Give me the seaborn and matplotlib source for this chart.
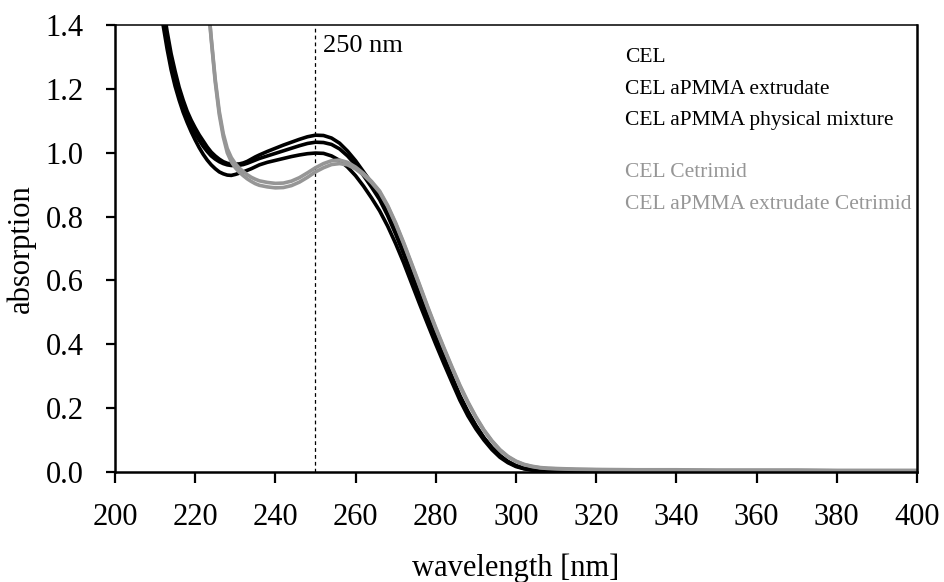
import pandas as pd
import numpy as np
import matplotlib.pyplot as plt
import seaborn as sns

# wavelength grid [nm]: 1 nm steps on the steep start, then 2 nm, then coarse tail
wavelength = (list(range(208, 237)) + list(range(238, 311, 2))
              + [315, 320, 330, 340, 350, 360, 370, 380, 390, 400])

# absorption
cel = [1.90, 1.77, 1.65, 1.55, 1.46, 1.38, 1.31, 1.255, 1.205, 1.165, 1.13, 1.102, 1.078, 1.056, 1.037,
       1.018, 1.002, 0.990, 0.980, 0.972, 0.967, 0.964, 0.964, 0.965, 0.968, 0.973, 0.980, 0.987, 0.993,
       1.004, 1.014, 1.024, 1.033, 1.042, 1.050, 1.055, 1.054, 1.046, 1.030, 1.005, 0.975, 0.940, 0.905,
       0.866, 0.815, 0.757, 0.692, 0.624, 0.556, 0.490, 0.425, 0.362, 0.300, 0.240, 0.190, 0.146, 0.108,
       0.077, 0.052, 0.033, 0.020, 0.012, 0.008, 0.006, 0.005, 0.004,
       0.003, 0.003, 0.003, 0.002, 0.002, 0.002, 0.002, 0.002, 0.002, 0.002]
cel_extr = [1.85, 1.73, 1.62, 1.52, 1.43, 1.35, 1.285, 1.232, 1.185, 1.145, 1.112, 1.084, 1.060, 1.039, 1.020,
            1.004, 0.990, 0.980, 0.972, 0.966, 0.962, 0.960, 0.960, 0.961, 0.963, 0.967, 0.972, 0.977, 0.982,
            0.990, 0.998, 1.006, 1.014, 1.022, 1.029, 1.033, 1.032, 1.026, 1.012, 0.990, 0.962, 0.928, 0.892,
            0.853, 0.803, 0.745, 0.682, 0.615, 0.548, 0.482, 0.418, 0.356, 0.295, 0.236, 0.186, 0.143, 0.106,
            0.075, 0.050, 0.032, 0.019, 0.011, 0.007, 0.005, 0.004, 0.004,
            0.003, 0.003, 0.003, 0.002, 0.002, 0.002, 0.002, 0.002, 0.002, 0.002]
cel_phys = [1.80, 1.68, 1.58, 1.48, 1.40, 1.325, 1.26, 1.208, 1.165, 1.127, 1.095, 1.066, 1.040, 1.016, 0.995,
            0.977, 0.962, 0.950, 0.940, 0.934, 0.930, 0.929, 0.932, 0.936, 0.940, 0.945, 0.950, 0.956, 0.962,
            0.970, 0.976, 0.982, 0.988, 0.993, 0.997, 0.999, 0.998, 0.990, 0.976, 0.955, 0.928, 0.895, 0.858,
            0.818, 0.770, 0.715, 0.655, 0.590, 0.525, 0.462, 0.400, 0.340, 0.282, 0.225, 0.176, 0.135, 0.100,
            0.070, 0.046, 0.029, 0.017, 0.010, 0.006, 0.005, 0.004, 0.003,
            0.003, 0.002, 0.002, 0.002, 0.002, 0.002, 0.002, 0.002, 0.002, 0.002]
cel_cet = [4.0, 3.8, 3.6, 3.4, 3.2, 3.0, 2.8, 2.6, 2.45, 2.3, 2.15, 2.0, 1.88, 1.76, 1.64,
           1.50, 1.36, 1.23, 1.13, 1.06, 1.013, 0.985, 0.966, 0.952, 0.941, 0.931, 0.923, 0.917, 0.912,
           0.907, 0.904, 0.905, 0.911, 0.922, 0.937, 0.953, 0.966, 0.975, 0.977, 0.970, 0.955, 0.935, 0.910,
           0.880, 0.835, 0.780, 0.718, 0.652, 0.585, 0.517, 0.452, 0.390, 0.330, 0.272, 0.220, 0.173, 0.132,
           0.098, 0.070, 0.049, 0.034, 0.024, 0.018, 0.014, 0.012, 0.011,
           0.009, 0.008, 0.007, 0.007, 0.006, 0.006, 0.006, 0.005, 0.005, 0.005]
cel_extr_cet = [4.0, 3.8, 3.6, 3.4, 3.2, 3.0, 2.8, 2.6, 2.45, 2.3, 2.15, 2.0, 1.88, 1.76, 1.64,
                1.50, 1.355, 1.222, 1.12, 1.05, 1.000, 0.972, 0.953, 0.939, 0.928, 0.918, 0.910, 0.903, 0.898,
                0.893, 0.890, 0.891, 0.897, 0.908, 0.923, 0.940, 0.953, 0.963, 0.966, 0.962, 0.949, 0.930, 0.906,
                0.876, 0.832, 0.777, 0.715, 0.649, 0.582, 0.514, 0.449, 0.387, 0.327, 0.269, 0.217, 0.171, 0.130,
                0.096, 0.068, 0.047, 0.033, 0.023, 0.017, 0.013, 0.011, 0.010,
                0.008, 0.007, 0.006, 0.006, 0.005, 0.005, 0.005, 0.004, 0.004, 0.004]

labels = ['CEL', 'CEL aPMMA extrudate', 'CEL aPMMA physical mixture',
          'CEL Cetrimid', 'CEL aPMMA extrudate Cetrimid']
series = [cel, cel_extr, cel_phys, cel_cet, cel_extr_cet]
colors = ['black', 'black', 'black', '#969696', '#969696']

# long table for seaborn
rows = []
for lab, vals in zip(labels, series):
    for w, v in zip(wavelength, vals):
        rows.append({'wavelength': w, 'absorption': v, 'sample': lab})
df = pd.DataFrame(rows)

sns.set_theme(style="white")
plt.rcParams['font.family'] = ['Liberation Serif', 'DejaVu Serif']
plt.rcParams['text.color'] = 'black'
plt.rcParams['axes.labelcolor'] = 'black'

fig = plt.figure(figsize=(9.44, 5.82), dpi=100)
ax = fig.add_axes([0.1218, 0.189, 0.8496, 0.768])

sns.lineplot(data=df, x='wavelength', y='absorption', hue='sample',
             palette=dict(zip(labels, colors)), hue_order=labels,
             linewidth=2.6, legend=False, ax=ax)

ax.axvline(250, color='black', lw=0.9, ls=(0, (3, 2.5)), zorder=0)
ax.text(251.9, 1.335, '250 nm', fontsize=19, va='center', ha='left', color='black')

# series names written in the plot instead of a legend box
ys = [1.298, 1.198, 1.1, 0.938, 0.837]
for lab, col, y in zip(labels, colors, ys):
    ax.text(327.2, y, lab, color=col, fontsize=15.5, va='center', ha='left')

ax.set_xlim(200, 400)
ax.set_ylim(0, 1.4)
ax.set_xticks(np.arange(200, 401, 20))
ax.set_yticks(np.arange(0, 1.41, 0.2))
ax.yaxis.set_major_formatter(plt.FuncFormatter(lambda v, p: f'{v:.1f}'))
ax.set_xlabel('wavelength [nm]', fontsize=22, labelpad=16, color='black')
ax.set_ylabel('absorption', fontsize=22, labelpad=7, color='black')
ax.tick_params(axis='both', which='major', direction='out', labelsize=22,
               width=1.6, color='black', labelcolor='black')
ax.tick_params(axis='x', length=8, pad=14, bottom=True)
ax.tick_params(axis='y', length=6.5, pad=16, left=True)

for side in ['left', 'bottom', 'right']:
    ax.spines[side].set_linewidth(1.8)
    ax.spines[side].set_color('black')
ax.spines['top'].set_linewidth(1.1)
ax.spines['top'].set_color('black')

plt.savefig('out.png', dpi=100)
